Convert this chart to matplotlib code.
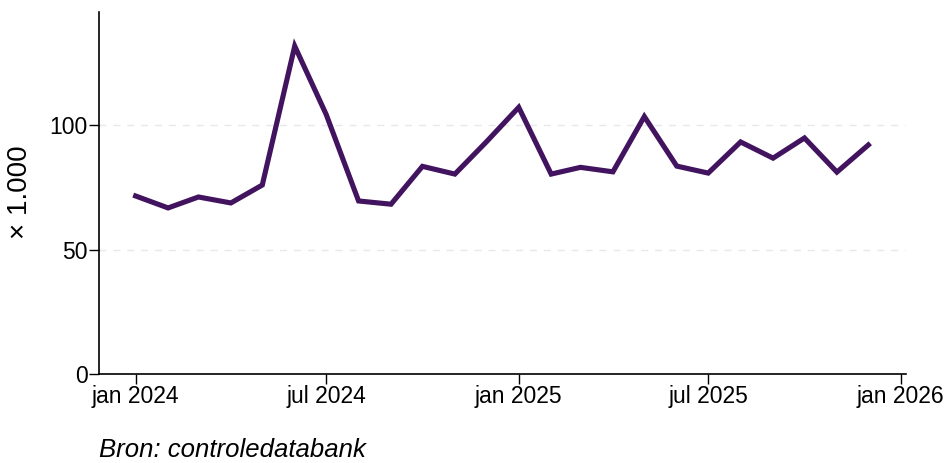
import matplotlib
matplotlib.use("Agg")
import matplotlib.pyplot as plt
import datetime as dt

months = [dt.date(2024 + (i // 12), i % 12 + 1, 1) for i in range(24)]
values = [71.5, 66.7, 71.1, 68.7, 75.9, 131.7, 104.3, 69.5, 68.2, 83.4, 80.3, 93.2,
          107.1, 80.3, 83.0, 81.2, 103.4, 83.5, 80.7, 93.2, 86.7, 94.8, 81.1, 92.0]
xtick_dates = [dt.date(2024, 1, 1), dt.date(2024, 7, 1), dt.date(2025, 1, 1),
               dt.date(2025, 7, 1), dt.date(2026, 1, 1)]
xtick_labels = ["jan 2024", "jul 2024", "jan 2025", "jul 2025", "jan 2026"]
yticks = [0, 50, 100]

plt.rcParams['font.family'] = ['Liberation Sans', 'DejaVu Sans']

fig = plt.figure(figsize=(9.51, 4.63), dpi=100)
ax = fig.add_axes([99/951, 1 - 374/463, (906 - 99)/951, (374 - 12)/463])

ax.plot(months, values, color='#42145f', linewidth=3.7, solid_joinstyle='miter', zorder=3)

ax.set_ylim(0, 145.4)
ax.set_xlim(dt.date(2023, 11, 27), dt.date(2026, 1, 6))
ax.set_yticks(yticks)
ax.set_yticklabels([str(v) for v in yticks], fontsize=16.5)
ax.set_xticks(xtick_dates)
ax.set_xticklabels(xtick_labels, fontsize=16.5)
for y in [50, 100]:
    ax.axhline(y, color='#e8e8e8', linestyle=(0, (5, 5)), linewidth=1, zorder=1)

ax.spines['top'].set_visible(False)
ax.spines['right'].set_visible(False)
ax.spines['left'].set_linewidth(1.2)
ax.spines['bottom'].set_linewidth(1.2)
ax.tick_params(axis='both', length=7, width=1, pad=1, colors='black')

fig.text(20/951, 1 - 192/463, "× 1.000", rotation=90, fontsize=20, ha='center', va='center')
fig.text(99/951, 1 - 450/463, "Bron: controledatabank", fontsize=18.5, style='italic',
         ha='left', va='center')

fig.savefig("out.png", dpi=100)
